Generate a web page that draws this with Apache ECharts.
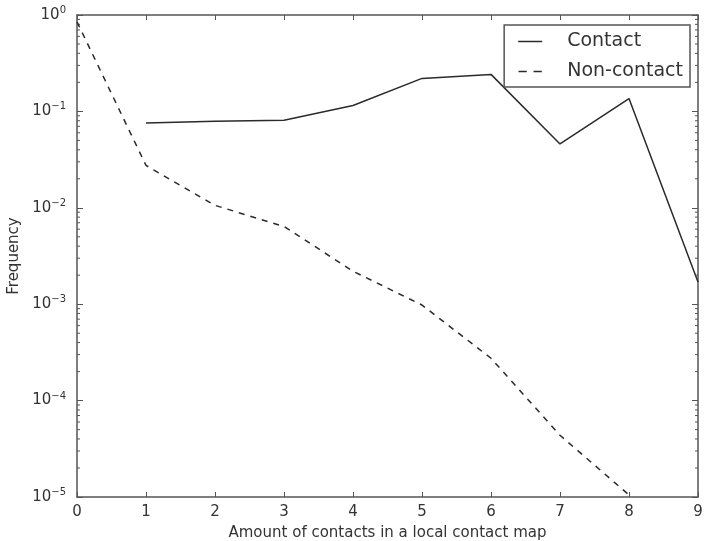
<!DOCTYPE html>
<html>
<head>
<meta charset="utf-8">
<script src="https://cdn.jsdelivr.net/npm/echarts@6/dist/echarts.min.js"></script>
<style>html,body{margin:0;padding:0;background:#fff;}#c{width:704px;height:541px;}</style>
</head>
<body>
<div id="c"></div>
<script>
// Data
var contactX = [1, 2, 3, 4, 5, 6, 7, 8, 9];
var contactY = [0.076, 0.079, 0.081, 0.115, 0.22, 0.242, 0.046, 0.136, 0.0017];
var nonContactX = [0, 1, 2, 3, 4, 5, 6, 7, 8];
var nonContactY = [0.85, 0.0275, 0.0106, 0.0064, 0.0022, 0.00098, 0.000275, 0.0000437, 0.0000105];
var xTicks = [0, 1, 2, 3, 4, 5, 6, 7, 8, 9];
var yDecades = [-5, -4, -3, -2, -1, 0];
var minorMultipliers = [2, 3, 4, 5, 6, 7, 8, 9];

function pairs(xs, ys) { return xs.map(function (x, i) { return [x, ys[i]]; }); }
var minorVals = [];
yDecades.slice(0, -1).forEach(function (d) {
  minorMultipliers.forEach(function (m) { minorVals.push([0, m * Math.pow(10, d)]); });
});

var font = 'DejaVu Sans';
var axisColor = '#555';
var lineColor = '#2a2a2a';
var chart = echarts.init(document.getElementById('c'), null, {renderer: 'canvas'});
chart.setOption({
  animation: false,
  backgroundColor: '#fff',
  textStyle: {fontFamily: font},
  grid: {left: 77, right: 6, top: 15, bottom: 44, containLabel: false, outerBoundsMode: 'none'},
  legend: {
    right: 14, top: 25, orient: 'vertical',
    borderColor: axisColor, borderWidth: 1.5, borderRadius: 0,
    padding: [7, 7, 6, 14], itemGap: 11, itemWidth: 32, itemHeight: 1.5,
    backgroundColor: '#fff',
    textStyle: {fontFamily: font, fontSize: 19, lineHeight: 18, color: '#333', padding: [0, 0, 0, 16]},
    data: [
      {name: 'Contact', icon: 'path://M0,0H32V2H0Z', itemStyle: {color: lineColor}},
      {name: 'Non-contact', icon: 'path://M0,0H11V2H0Z M20,0H31V2H20Z', itemStyle: {color: lineColor}}
    ]
  },
  xAxis: [{
    type: 'value', min: 0, max: 9, interval: 1,
    name: 'Amount of contacts in a local contact map', nameLocation: 'middle', nameGap: 29,
    nameTextStyle: {fontFamily: font, fontSize: 15, color: '#333'},
    axisLine: {show: true, onZero: false, lineStyle: {color: axisColor, width: 1.5}},
    axisTick: {show: true, inside: true, length: 5, lineStyle: {color: axisColor}},
    axisLabel: {fontFamily: font, fontSize: 15, color: '#333', margin: 8,
      formatter: function (v) { return xTicks.indexOf(v) >= 0 ? String(v) : ''; }},
    splitLine: {show: false}
  }, {
    type: 'value', min: 0, max: 9, interval: 1, position: 'top',
    axisLine: {show: true, onZero: false, lineStyle: {color: axisColor, width: 1.5}},
    axisTick: {show: true, inside: true, length: 5, lineStyle: {color: axisColor}},
    axisLabel: {show: false}, splitLine: {show: false}
  }],
  yAxis: [{
    type: 'log', logBase: 10, min: 1e-5, max: 1,
    name: 'Frequency', nameLocation: 'middle', nameGap: 53, nameRotate: 90,
    nameTextStyle: {fontFamily: font, fontSize: 15, color: '#333'},
    axisLine: {show: true, onZero: false, lineStyle: {color: axisColor, width: 1.5}},
    axisTick: {show: true, inside: true, length: 6, lineStyle: {color: axisColor}},
    axisLabel: {
      margin: 11, color: '#333',
      formatter: function (v) {
        var e = Math.round(Math.log10(v));
        var s = String(e).replace('-', '\u2212');
        return '{b|10}{s|' + s + '}';
      },
      rich: {
        b: {fontFamily: font, fontSize: 15, color: '#333'},
        s: {fontFamily: font, fontSize: 10, color: '#333', padding: [0, 0, 9, 0]}
      }
    },
    splitLine: {show: false}
  }, {
    type: 'log', logBase: 10, min: 1e-5, max: 1, position: 'right',
    axisLine: {show: true, onZero: false, lineStyle: {color: axisColor, width: 1.5}},
    axisTick: {show: true, inside: true, length: 6, lineStyle: {color: axisColor}},
    axisLabel: {show: false}, splitLine: {show: false}
  }],
  series: [{
    name: 'Contact', type: 'line', data: pairs(contactX, contactY),
    symbol: 'none', lineStyle: {color: lineColor, width: 1.5, type: 'solid'},
    itemStyle: {color: lineColor}, z: 3
  }, {
    name: 'Non-contact', type: 'line', data: pairs(nonContactX, nonContactY),
    symbol: 'none', lineStyle: {color: lineColor, width: 1.5, type: [6, 6]},
    itemStyle: {color: lineColor}, z: 3
  }, {
    type: 'custom', silent: true, data: minorVals, z: 2,
    renderItem: function (params, api) {
      var p = api.coord([0, api.value(1)]);
      var cs = params.coordSys;
      return {type: 'group', children: [
        {type: 'line', shape: {x1: cs.x, y1: p[1], x2: cs.x + 3, y2: p[1]}, style: {stroke: axisColor, lineWidth: 1}},
        {type: 'line', shape: {x1: cs.x + cs.width - 3, y1: p[1], x2: cs.x + cs.width, y2: p[1]}, style: {stroke: axisColor, lineWidth: 1}}
      ]};
    }
  }]
});
</script>
</body>
</html>
